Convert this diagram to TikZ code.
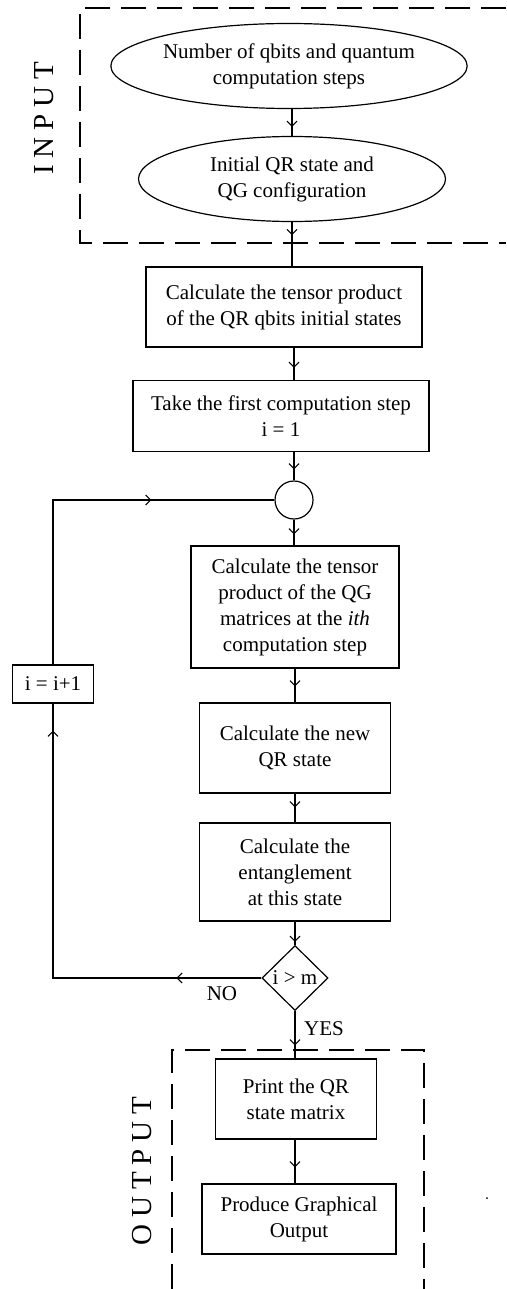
\documentclass[tikz,border=0pt]{standalone}
\usepackage{fontspec}
\setmainfont{Liberation Serif}
\newfontfamily\sectfont[LetterSpace=24]{Liberation Serif}
\usetikzlibrary{shapes.geometric,arrows.meta,decorations.markings}

\newcommand{\flowtip}{\arrow{Straight Barb[length=5pt,width=10pt,line width=1.1pt]}}

\tikzset{
	stepbox/.style={draw, line width=1.2pt, align=center, inner sep=0pt},
	oval/.style={stepbox, ellipse},
	flow/.style={line width=1.2pt, postaction={decorate},
		decoration={markings, mark=at position #1 with {\flowtip}}},
	frame/.style={line width=1.2pt, dash pattern=on 25pt off 11pt},
	sect/.style={rotate=90, font=\fontsize{29}{29}\sectfont},
	lbl/.style={inner sep=0pt},
}

\begin{document}
\begin{tikzpicture}[x=1pt, y=1pt, font=\fontsize{21}{26}\selectfont]
		\useasboundingbox (0,0) rectangle (506,-1289);
		
		% input block
		\draw[frame] (506,-8) -- (80,-8) -- (80,-243) -- (506,-243);
		\node[sect] (inlabel) at (44,-118) {INPUT};
		\node[oval, minimum width=308, minimum height=85] (qbits) at (289,-66) {Number of qbits and quantum\\computation steps};
		\node[oval, minimum width=307, minimum height=85] (init) at (292,-179) {Initial QR state and\\QG configuration};
		
		% main column
		\node[stepbox, minimum width=276, minimum height=80] (tensor) at (284,-307) {Calculate the tensor product\\of the QR qbits initial states};
		\node[stepbox, minimum width=296, minimum height=71] (first) at (281,-416) {Take the first computation step\\i = 1};
		\node[circle, draw, line width=1.2pt, minimum size=38, inner sep=0pt] (join) at (294,-500) {};
		\node[stepbox, minimum width=208, minimum height=122] (gates) at (295,-607) {Calculate the tensor\\product of the QG\\matrices at the \textit{ith}\\computation step};
		\node[stepbox, minimum width=191, minimum height=90] (newstate) at (295,-748) {Calculate the new\\QR state};
		\node[stepbox, minimum width=191, minimum height=98] (entangle) at (295,-872) {Calculate the\\entanglement\\at this state};
		\node[draw, diamond, line width=1.2pt, minimum width=66, minimum height=65, inner sep=0pt] (test) at (295,-978) {i {\textgreater} m};
		
		% loop counter
		\node[stepbox, minimum width=81, minimum height=38] (inc) at (53,-684) {i = i+1};
		
		% output block
		\draw[frame] (172,-1289) -- (172,-1050) -- (424,-1050) -- (424,-1289);
		\node[sect] (outlabel) at (142,-1171) {OUTPUT};
		\node[stepbox, minimum width=161, minimum height=80] (print) at (296,-1099) {Print the QR\\state matrix};
		\node[stepbox, minimum width=194, minimum height=70] (graph) at (299,-1219) {Produce Graphical\\Output};
		\fill (487,-1198) circle (1pt);
		
		% arrows down the column
		\draw[flow=-9pt] (qbits.south -| init) -- (init.north);
		\draw[flow=13pt] (init.south) -- (tensor.north -| init);
		\draw[flow=-12pt] (tensor.south -| join) -- (first.north -| join);
		\draw[flow=-11pt] (first.south -| join) -- (join.north);
		\draw[flow=-11pt] (join.south) -- (gates.north -| join);
		\draw[flow=-16pt] (gates.south) -- (newstate.north);
		\draw[flow=-15pt] (newstate.south) -- (entangle.north);
		\draw[flow=-3pt] (entangle.south) -- (test.north);
		\draw[flow=-13pt] (test.south) -- (print.north -| test);
		\draw[flow=-16pt] (print.south -| test) -- (graph.north -| test);
		
		% back loop
		\draw[line width=1.2pt, postaction={decorate}, decoration={markings,
			mark=at position 85pt with {\flowtip}, mark=at position -27pt with {\flowtip}}]
			(test.west) -- (test.west -| inc) -- (inc.south);
		\draw[flow=-123pt] (inc.north) -- (inc.north |- join.west) -- (join.west);
		
		% branch labels
		\node[lbl] (no) at (222,-994) {NO};
		\node[lbl] (yes) at (324,-1029) {YES};
		
\end{tikzpicture}
\end{document}
